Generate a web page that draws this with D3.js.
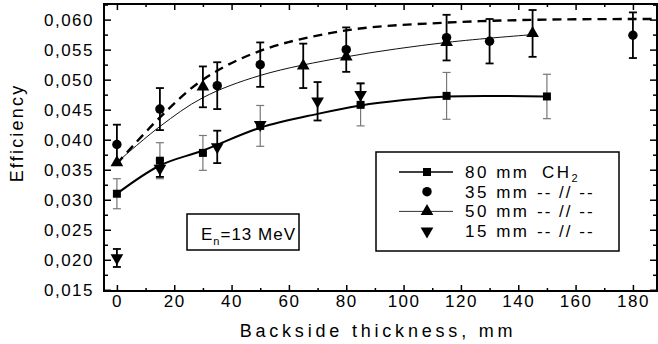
<!DOCTYPE html>
<html>
<head>
<meta charset="utf-8">
<script src="https://cdn.jsdelivr.net/npm/d3@7"></script>
<style>
	body { margin: 0; background: #fff; }
	svg { display: block; font-family: "Liberation Sans", Arial, sans-serif; }
	.axis line { stroke: #000; stroke-width: 1.5; }
	.axis text { font-size: 17px; letter-spacing: 1.5px; fill: #000; }
</style>
</head>
<body>
<svg id="viz" width="658" height="344"></svg>
<script>
// measured points, x = backside thickness (mm), y = efficiency
var thick80 = [0, 15, 30, 50, 85, 115, 150],
	eff80 = [0.0310, 0.0365, 0.0378, 0.0423, 0.0458, 0.0473, 0.0472],
	err80 = [0.0025, 0.0030, 0.0029, 0.0034, 0.0035, 0.0039, 0.0037];
var thick35 = [0, 15, 35, 50, 80, 115, 130, 180],
	eff35 = [0.0392, 0.0451, 0.0490, 0.0525, 0.0550, 0.0570, 0.0564, 0.0574],
	err35 = [0.0033, 0.0035, 0.0039, 0.0037, 0.0037, 0.0038, 0.0037, 0.0038];
var thick50 = [0, 30, 65, 80, 115, 145],
	eff50 = [0.0362, 0.0488, 0.0523, 0.0538, 0.0562, 0.0577],
	err50 = [0, 0.0034, 0.0037, 0, 0, 0.0039];
var thick15 = [0, 15, 35, 50, 70, 85],
	eff15 = [0.0203, 0.0352, 0.0388, 0.0425, 0.0464, 0.0475],
	err15 = [0.0015, 0.0014, 0.0027, 0, 0.0032, 0.0019];

// fitted curves
var fit80X = [0, 15, 30, 50, 70, 85, 100, 115, 150],
	fit80Y = [0.0310, 0.0357, 0.0382, 0.0420, 0.0443, 0.0457, 0.0466, 0.0472, 0.0472];
var fit35X = [0, 15, 30, 50, 80, 115, 150, 188],
	fit35Y = [0.0360, 0.0437, 0.0500, 0.0548, 0.0582, 0.0595, 0.0600, 0.0601];
var fit50X = [0, 15, 30, 50, 80, 115, 145],
	fit50Y = [0.0362, 0.0422, 0.0470, 0.0507, 0.0538, 0.0562, 0.0575];

var xTicks = [0, 20, 40, 60, 80, 100, 120, 140, 160, 180],
	yTicks = [0.015, 0.020, 0.025, 0.030, 0.035, 0.040, 0.045, 0.050, 0.055, 0.060];
var legendLabels = ["80 mm", "35 mm", "50 mm", "15 mm"],
	legendNotes = ["CH", "-- // --", "-- // --", "-- // --"];

var svg = d3.select("#viz"),
	pLeft = 104, pRight = 657, pTop = 4, pBottom = 291;

var x = d3.scaleLinear().domain([-4.5, 188.4]).range([pLeft, pRight]);
var y = d3.scaleLinear().domain([0.0148, 0.0626]).range([pBottom, pTop]);
var fmt = function (v) { return d3.format(".3f")(v).replace(".", ","); };

var xMinor = d3.range(10, 190, 20),
	yMinor = d3.range(0.0175, 0.0626, 0.005);

// axes: ticks point inward on all four sides
svg.append("g").attr("class", "axis")
	.attr("transform", "translate(0," + pBottom + ")")
	.call(d3.axisBottom(x).tickValues(xTicks).tickSize(-6).tickPadding(4).tickFormat(d3.format("d")))
	.call(function (g) { g.selectAll("text").attr("y", 4); });
svg.append("g").attr("class", "axis")
	.attr("transform", "translate(0," + pBottom + ")")
	.call(d3.axisBottom(x).tickValues(xMinor).tickSize(-3).tickFormat(""));
svg.append("g").attr("class", "axis")
	.attr("transform", "translate(" + pLeft + ",0)")
	.call(d3.axisLeft(y).tickValues(yTicks).tickSize(-7).tickPadding(10).tickFormat(fmt));
svg.append("g").attr("class", "axis")
	.attr("transform", "translate(" + pLeft + ",0)")
	.call(d3.axisLeft(y).tickValues(yMinor).tickSize(-4).tickFormat(""));
svg.append("g").attr("class", "axis")
	.attr("transform", "translate(0," + pTop + ")")
	.call(d3.axisTop(x).tickValues(xTicks).tickSize(-6).tickFormat(""));
svg.append("g").attr("class", "axis")
	.attr("transform", "translate(0," + pTop + ")")
	.call(d3.axisTop(x).tickValues(xMinor).tickSize(-3).tickFormat(""));
svg.append("g").attr("class", "axis")
	.attr("transform", "translate(" + pRight + ",0)")
	.call(d3.axisRight(y).tickValues(yTicks).tickSize(-7).tickFormat(""));
svg.append("g").attr("class", "axis")
	.attr("transform", "translate(" + pRight + ",0)")
	.call(d3.axisRight(y).tickValues(yMinor).tickSize(-4).tickFormat(""));
svg.selectAll(".axis path.domain").remove();
svg.append("rect")
	.attr("x", pLeft).attr("y", pTop)
	.attr("width", pRight - pLeft).attr("height", pBottom - pTop)
	.attr("fill", "none").attr("stroke", "#000").attr("stroke-width", 2);

svg.append("text")
	.attr("transform", "translate(23,133) rotate(-90)")
	.attr("text-anchor", "middle")
	.attr("font-size", 18).attr("letter-spacing", "2.2px")
	.text("Efficiency");
svg.append("text")
	.attr("x", 378).attr("y", 337)
	.attr("text-anchor", "middle")
	.attr("font-size", 18).attr("letter-spacing", "3.8px")
	.text("Backside thickness, mm");

svg.append("clipPath").attr("id", "plotClip")
	.append("rect").attr("x", pLeft).attr("y", pTop).attr("width", pRight - pLeft).attr("height", pBottom - pTop);
var plot = svg.append("g").attr("clip-path", "url(#plotClip)");

function pairs(xs, ys, es) {
	return xs.map(function (v, i) { return { x: v, y: ys[i], e: es ? es[i] : 0 }; });
}
var line = d3.line()
	.x(function (d) { return x(d.x); })
	.y(function (d) { return y(d.y); })
	.curve(d3.curveCatmullRom.alpha(0.5));

plot.append("path").datum(pairs(fit35X, fit35Y))
	.attr("d", line).attr("fill", "none").attr("stroke", "#000")
	.attr("stroke-width", 2.4).attr("stroke-dasharray", "9,6");
plot.append("path").datum(pairs(fit50X, fit50Y))
	.attr("d", line).attr("fill", "none").attr("stroke", "#111").attr("stroke-width", 1);
plot.append("path").datum(pairs(fit80X, fit80Y))
	.attr("d", line).attr("fill", "none").attr("stroke", "#000").attr("stroke-width", 2);

function errorBars(data, color, width) {
	var g = plot.append("g").attr("stroke", color).attr("stroke-width", width);
	var d = data.filter(function (p) { return p.e > 0; });
	g.selectAll("line.v").data(d).enter().append("line")
		.attr("x1", function (p) { return x(p.x); }).attr("x2", function (p) { return x(p.x); })
		.attr("y1", function (p) { return y(p.y + p.e); }).attr("y2", function (p) { return y(p.y - p.e); });
	[1, -1].forEach(function (s) {
		g.selectAll("line.c" + s).data(d).enter().append("line")
			.attr("x1", function (p) { return x(p.x) - 4; }).attr("x2", function (p) { return x(p.x) + 4; })
			.attr("y1", function (p) { return y(p.y + s * p.e); }).attr("y2", function (p) { return y(p.y + s * p.e); });
	});
}
var s80 = pairs(thick80, eff80, err80),
	s35 = pairs(thick35, eff35, err35),
	s50 = pairs(thick50, eff50, err50),
	s15 = pairs(thick15, eff15, err15);
errorBars(s80, "#777", 1.2);
errorBars(s35, "#000", 1.8);
errorBars(s50, "#000", 1.8);
errorBars(s15, "#000", 1.8);

var shapes = {
	square: d3.symbol().type(d3.symbolSquare).size(64),
	circle: d3.symbol().type(d3.symbolCircle).size(70),
	up: d3.symbol().type(d3.symbolTriangle).size(70)
};
function markers(g, data, sym, rot) {
	g.selectAll("path.m").data(data).enter().append("path")
		.attr("d", sym)
		.attr("transform", function (p) { return "translate(" + x(p.x) + "," + y(p.y) + ")" + (rot ? " rotate(180)" : ""); })
		.attr("fill", "#000");
}
markers(plot.append("g"), s80, shapes.square);
markers(plot.append("g"), s35, shapes.circle);
markers(plot.append("g"), s50, shapes.up);
markers(plot.append("g"), s15, shapes.up, true);

// legend
var legend = svg.append("g");
legend.append("rect")
	.attr("x", 376).attr("y", 152).attr("width", 243).attr("height", 99)
	.attr("fill", "#fff").attr("stroke", "#000").attr("stroke-width", 1.5);
var legendSyms = [shapes.square, shapes.circle, shapes.up, shapes.up];
legendLabels.forEach(function (lab, i) {
	var cy = 172 + i * 19.7;
	if (i == 0 || i == 2) {
		legend.append("line")
			.attr("x1", 399).attr("x2", 453).attr("y1", cy).attr("y2", cy)
			.attr("stroke", i == 0 ? "#000" : "#333").attr("stroke-width", i == 0 ? 1.5 : 1);
	}
	legend.append("path").attr("d", legendSyms[i])
		.attr("transform", "translate(427," + cy + ")" + (i == 3 ? " rotate(180)" : ""));
	legend.append("text")
		.attr("x", 465).attr("y", cy + 6)
		.attr("font-size", 17).attr("letter-spacing", "2.5px")
		.text(lab);
	var note = legend.append("text")
		.attr("x", i == 0 ? 542 : 537).attr("y", cy + 6)
		.attr("font-size", 17).attr("letter-spacing", i == 0 ? "2.5px" : "2px")
		.text(legendNotes[i]);
	if (i == 0) note.append("tspan").attr("font-size", 11).attr("dy", 4).text("2");
});

// energy box
svg.append("rect")
	.attr("x", 187).attr("y", 214).attr("width", 112).attr("height", 36)
	.attr("fill", "#fff").attr("stroke", "#000").attr("stroke-width", 1.5);
var en = svg.append("text")
	.attr("x", 201).attr("y", 240)
	.attr("font-size", 17).attr("letter-spacing", "1px")
	.text("E");
en.append("tspan").attr("font-size", 11).attr("dy", 5).text("n");
en.append("tspan").attr("dy", -5).text("=13 MeV");
</script>
</body>
</html>
